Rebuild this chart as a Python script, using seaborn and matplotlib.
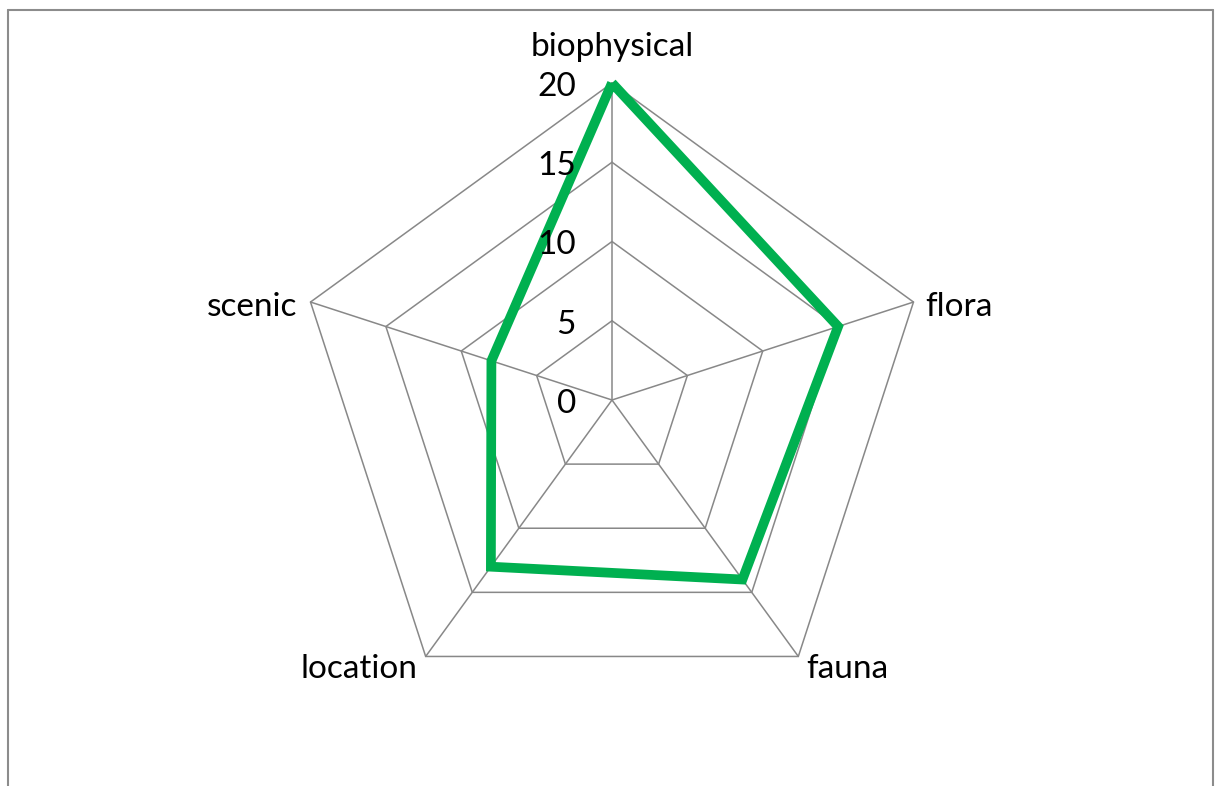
import numpy as np
import pandas as pd
import matplotlib
matplotlib.use("Agg")
import matplotlib.pyplot as plt
import seaborn as sns

categories = ["biophysical", "flora", "fauna", "location", "scenic"]
values = [20, 15, 14, 13, 8]
ring_levels = [0, 5, 10, 15, 20]
tick_labels = ["0", "5", "10", "15", "20"]

sns.set_theme(style="white")
plt.rcParams["font.family"] = ["Lato", "DejaVu Sans"]

W, H, DPI = 1215, 786, 100
fig = plt.figure(figsize=(W / DPI, H / DPI), dpi=DPI)
ax = fig.add_axes([0, 0, 1, 1])

# pixel geometry of the plot: centre and outer radius
cx_px, cy_px, r_px = 612, 400, 317
rmax = ring_levels[-1]
u = rmax / r_px  # data units per pixel

n = len(categories)
angles = np.pi / 2 - np.arange(n) * 2 * np.pi / n
grid_color = "#888888"

# polygon rings
for lvl in ring_levels[1:]:
    xs = np.append(lvl * np.cos(angles), lvl * np.cos(angles[0]))
    ys = np.append(lvl * np.sin(angles), lvl * np.sin(angles[0]))
    ax.plot(xs, ys, color=grid_color, lw=1.1, zorder=1)

# spokes
for a in angles:
    ax.plot([0, rmax * np.cos(a)], [0, rmax * np.sin(a)], color=grid_color, lw=1.1, zorder=1)

# data polygon (closed back to the first category)
vals = np.array(values + values[:1], dtype=float)
angs = np.append(angles, angles[0])
df = pd.DataFrame({"x": vals * np.cos(angs), "y": vals * np.sin(angs)})
sns.lineplot(data=df, x="x", y="y", sort=False, estimator=None, color="#00B050", lw=7,
             ax=ax, zorder=3, solid_joinstyle="miter", solid_capstyle="butt")

ax.set_xlim(-cx_px * u, (W - cx_px) * u)
ax.set_ylim(-(H - cy_px) * u, cy_px * u)
ax.set_axis_off()

# radial tick labels along the top spoke
fs = 24
for lvl, t in zip(ring_levels, tick_labels):
    ax.text(-36 * u, lvl - 4 * u, t, ha="right", va="center", fontsize=fs, color="black", zorder=4)

# category labels
offsets = {
    "biophysical": ((0, 36), "center", "center"),
    "flora": ((12, -5), "left", "center"),
    "fauna": ((8, -13), "left", "center"),
    "location": ((-8, -13), "right", "center"),
    "scenic": ((-13, -5), "right", "center"),
}
for cat, a in zip(categories, angles):
    (dx, dy), ha, va = offsets[cat]
    x = rmax * np.cos(a) + dx * u
    y = rmax * np.sin(a) + dy * u
    ax.text(x, y, cat, ha=ha, va=va, fontsize=fs, color="black")

# chart area frame
frame_color = "#8c8c8c"
fig.add_artist(plt.Line2D([8 / W, 8 / W], [0, 1 - 10 / H], transform=fig.transFigure, color=frame_color, lw=1.5))
fig.add_artist(plt.Line2D([8 / W, 1213 / W], [1 - 10 / H, 1 - 10 / H], transform=fig.transFigure, color=frame_color, lw=1.5))
fig.add_artist(plt.Line2D([1213 / W, 1213 / W], [0, 1 - 10 / H], transform=fig.transFigure, color=frame_color, lw=1.5))

fig.savefig("out.png", dpi=DPI, facecolor="white")
